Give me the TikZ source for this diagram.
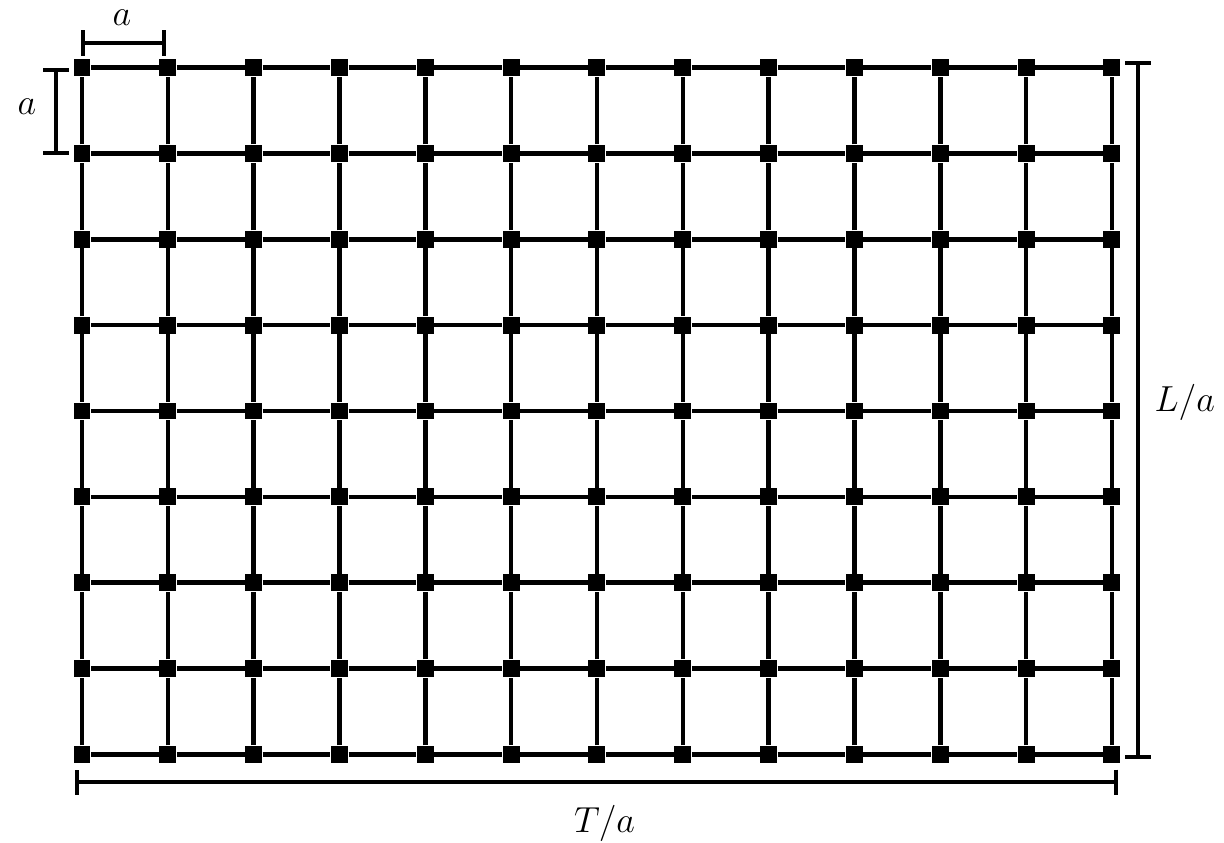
\documentclass[tikz,border=0pt]{standalone}
\usepackage{tikz}
\usetikzlibrary{arrows.meta, positioning, calc}
\definecolor{mydark}{RGB}{0,0,0}
\tikzset{
  site/.style={rectangle, fill=mydark, inner sep=0pt,
    minimum size=5.6pt},
  bond/.style={line width=1.5pt, color=mydark},
  dimline/.style={{Bar[width=8.4pt]}-{Bar[width=8.4pt]}, line width=1.4pt, color=mydark},
  dimlabel/.style={font=\fontsize{13}{16}\selectfont, inner sep=0pt, anchor=base}
}
\begin{document}
\begin{tikzpicture}
  \useasboundingbox (-0.955,-1.024) rectangle (13.306,8.789);

  % Lattice sites
  \foreach \i in {0,...,12}
    \foreach \j in {0,...,8}
      \node[site] (n-\i-\j) at (\i,\j) {};

  % Links between neighbouring sites
  \foreach \i in {0,...,12}
    \foreach \j in {0,...,8} {
      \pgfmathtruncatemacro\nexti{\i+1}
      \pgfmathtruncatemacro\nextj{\j+1}
      \ifnum\i<12 \draw[bond] (n-\i-\j) -- (n-\nexti-\j); \fi
      \ifnum\j<8 \draw[bond] (n-\i-\j) -- (n-\i-\nextj); \fi
    }

  % Lattice spacing
  \coordinate (ta) at (-0.01,8.289);
  \coordinate (tb) at (0.98,8.289);
  \draw[dimline] (ta) -- (tb);
  \node[dimlabel] (atop) at (0.466,8.49) {$a$};

  \coordinate (la) at (-0.303,8.0);
  \coordinate (lb) at (-0.303,6.985);
  \draw[dimline] (la) -- (lb);
  \node[dimlabel] (aleft) at (-0.64,7.45) {$a$};

  % Extent of the lattice
  \coordinate (ra) at (12.303,8.079);
  \coordinate (rb) at (12.303,-0.058);
  \draw[dimline] (ra) -- (rb);
  \node[dimlabel, anchor=base west] (Llab) at (12.49,4.0) {$L/a$};

  \coordinate (ba) at (-0.08,-0.326);
  \coordinate (bb) at (12.07,-0.326);
  \draw[dimline] (ba) -- (bb);
  \node[dimlabel] (Tlab) at (6.09,-0.908) {$T/a$};
\end{tikzpicture}
\end{document}
